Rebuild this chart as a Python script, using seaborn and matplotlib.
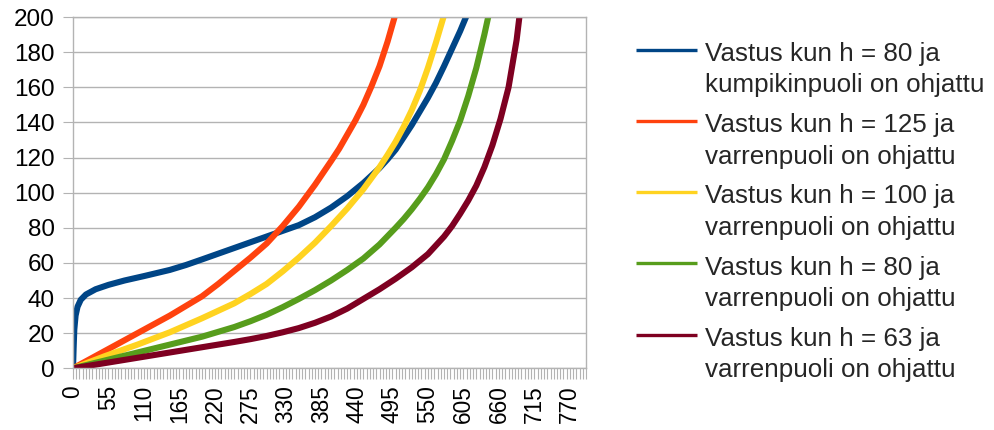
import matplotlib
matplotlib.use("Agg")
import matplotlib.pyplot as plt
from matplotlib.lines import Line2D
from matplotlib.ticker import MultipleLocator
import pandas as pd
import seaborn as sns

# Liike (x) ja vastus (y) kullekin tapaukselle
x_both_80 = [0, 1, 2, 4, 7, 12, 20, 35, 55, 80, 110, 150, 175, 200, 250, 300, 350, 375,
             400, 425, 450, 475, 487.5, 500, 525, 550, 562.5, 575, 587.5, 600, 612.5, 620]
v_both_80 = [0, 12, 22, 30, 35, 39, 42, 45, 47.5, 50, 52.5, 56, 58.8, 62, 68.5, 75, 81.5, 86,
             91.5, 98, 105.5, 114, 119, 124.5, 138.5, 154, 162.5, 172, 182, 192, 203, 210]

x_rod_125 = [0, 50, 100, 150, 200, 225, 250, 275, 300, 325, 350, 375, 400, 412.5, 425,
             437.5, 450, 462.5, 475, 487.5, 500, 510]
v_rod_125 = [0, 10, 20, 30, 41, 48, 55.5, 63, 71, 81, 92, 104.5, 118, 125, 133,
             141, 150, 160.5, 172, 186, 202, 216]

x_rod_100 = [0, 50, 100, 150, 200, 250, 275, 300, 325, 350, 375, 400, 425, 450, 475, 487.5,
             500, 512.5, 525, 537.5, 550, 562.5, 575, 585]
v_rod_100 = [0, 7, 13.5, 20.5, 28.5, 37, 42.3, 48, 55.2, 63, 71.5, 81, 91, 102, 114.5, 121.5,
             129, 137.5, 147, 158, 171, 185.5, 201, 215]

x_rod_80 = [0, 50, 100, 150, 200, 250, 275, 300, 325, 350, 375, 400, 425, 450, 475, 500,
            512.5, 525, 537.5, 550, 562.5, 575, 587.5, 600, 612.5, 625, 637.5, 650]
v_rod_80 = [0, 4.5, 9, 13.5, 18, 23.5, 26.8, 30.5, 34.8, 39.5, 44.5, 50, 56, 62.5, 70.5, 80,
            85, 90.5, 96.5, 103, 110.5, 119, 129.5, 141, 155, 171, 190, 211]

x_rod_63 = [0, 50, 100, 150, 200, 250, 275, 300, 325, 350, 375, 400, 425, 450, 475, 500,
            525, 550, 575, 587.5, 600, 612.5, 625, 637.5, 650, 662.5, 675, 687.5, 700]
v_rod_63 = [0, 3, 6, 9, 12, 15, 16.6, 18.4, 20.5, 22.9, 25.9, 29.5, 34, 39.5, 45, 51,
            57.5, 65, 75, 81, 88, 95.5, 104, 114.5, 127, 142, 160, 187, 225]

label_line1 = ["Vastus kun h = 80 ja", "Vastus kun h = 125 ja", "Vastus kun h = 100 ja",
               "Vastus kun h = 80 ja", "Vastus kun h = 63 ja"]
label_line2 = ["kumpikinpuoli on ohjattu", "varrenpuoli on ohjattu", "varrenpuoli on ohjattu",
               "varrenpuoli on ohjattu", "varrenpuoli on ohjattu"]
colors = ["#004586", "#ff420e", "#ffd320", "#579d1c", "#7e0021"]

series_x = [x_both_80, x_rod_125, x_rod_100, x_rod_80, x_rod_63]
series_v = [v_both_80, v_rod_125, v_rod_100, v_rod_80, v_rod_63]
names = [a + " " + b for a, b in zip(label_line1, label_line2)]

frames = []
for name, xs, vs in zip(names, series_x, series_v):
    frames.append(pd.DataFrame({"x": xs, "v": vs, "sarja": name}))
df = pd.concat(frames, ignore_index=True)

sns.set_style("white")
plt.rcParams["font.family"] = ["Liberation Sans", "DejaVu Sans"]

W, H = 995, 430
fig = plt.figure(figsize=(W / 100, H / 100), dpi=100)
ax = fig.add_axes([73 / W, (H - 368.3) / H, (586 - 73) / W, (368.3 - 17) / H])

sns.lineplot(data=df, x="x", y="v", hue="sarja", hue_order=names,
             palette=colors, estimator=None, sort=False, linewidth=4.4,
             legend=False, ax=ax)

grid_c = "#b3b3b3"
ax.set_xlim(0, 795)
ax.set_ylim(0, 200)
ax.xaxis.set_major_locator(MultipleLocator(55))
ax.xaxis.set_minor_locator(MultipleLocator(5))
ax.yaxis.set_major_locator(MultipleLocator(20))
ax.set_xlabel("")
ax.set_ylabel("")
ax.grid(axis="y", color=grid_c, linewidth=1.0)
ax.set_axisbelow(True)
for sp in ax.spines.values():
    sp.set_color(grid_c)
    sp.set_linewidth(1.0)
ax.tick_params(axis="x", which="both", direction="out", length=8, width=0.8,
               color=grid_c, labelrotation=90, pad=4, labelsize=16.3,
               labelcolor="black", bottom=True)
ax.tick_params(axis="y", which="both", direction="out", length=7, width=0.8,
               color=grid_c, pad=6, labelsize=17.5, labelcolor="black", left=True)

# Selite oikealle: viiva ensimmäisen rivin kohdalle
for i, (c, l1, l2) in enumerate(zip(colors, label_line1, label_line2)):
    yl = 49.5 + 71.3 * i
    fig.add_artist(Line2D([636 / W, 697 / W], [1 - yl / H, 1 - yl / H],
                          transform=fig.transFigure, color=c, linewidth=2.4,
                          solid_capstyle="butt"))
    fig.text(705 / W, 1 - (60.7 + 71.3 * i) / H, l1, fontsize=18.7, va="baseline")
    fig.text(705 / W, 1 - (92.3 + 71.3 * i) / H, l2, fontsize=18.7, va="baseline")

fig.savefig("out.png", dpi=100)
